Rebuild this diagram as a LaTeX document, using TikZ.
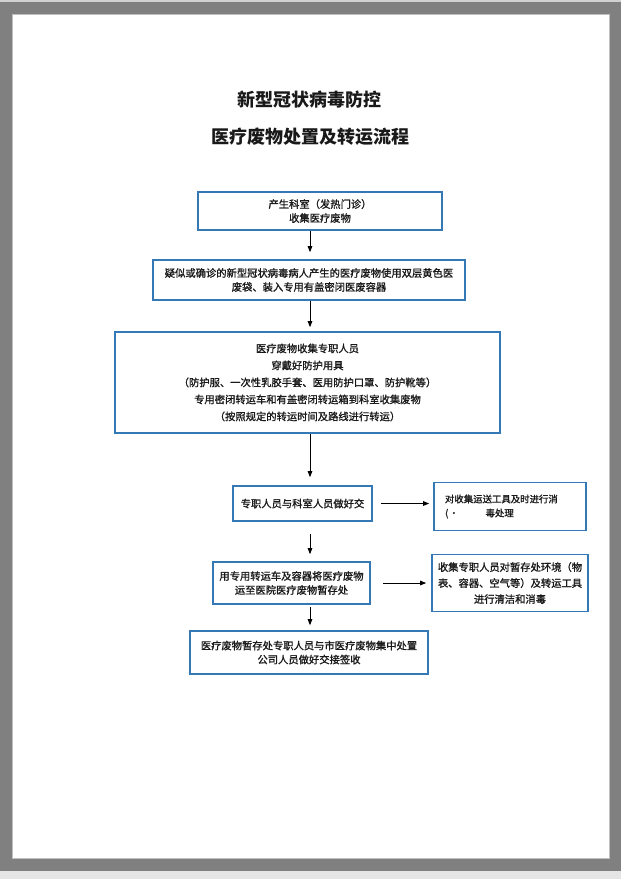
\documentclass[tikz,border=0pt]{standalone}
\usepackage{fontspec}
\usepackage{xcolor}
\usetikzlibrary{positioning,arrows.meta}
\newfontfamily\cjk[FakeBold=1.2]{Noto Sans CJK SC}
\newfontfamily\cjktitle{Noto Sans CJK SC}
\definecolor{boxblue}{RGB}{52,120,182}
\definecolor{pagegray}{RGB}{128,128,128}

\begin{document}
\begin{tikzpicture}[x=1bp, y=1bp,
  flow/.style={draw=boxblue, line width=1.6bp, align=center, inner sep=0pt,
               font=\cjk\fontsize{10.3bp}{14bp}\selectfont, text=black!90},
  ttl/.style={font=\cjktitle\bfseries\fontsize{18bp}{22bp}\selectfont, text=black!90},
  arr/.style={-{Triangle[length=6bp,width=4.5bp]}, line width=0.9bp}
]
  % page
  \useasboundingbox (0,0) rectangle (621,-879);
  \fill[pagegray] (0,-2) rectangle (621,-871);
  \fill[black!18] (0,0) rectangle (621,-2);
  \fill[black!10] (0,-871) rectangle (621,-879);
  \fill[white, draw=black!25] (12,-14) rectangle (609,-858);

  % title
  \node[ttl] (t1) at (309,-100) {新型冠状病毒防控};
  \node[ttl] (t2) at (310,-137) {医疗废物处置及转运流程};

  % main chain
  \node[flow, minimum width=244bp, minimum height=38bp] (produce) at (320,-211)
    {产生科室（发热门诊）\\收集医疗废物};
  \node[flow, minimum width=312bp, minimum height=40bp,
        below=28.4bp of produce, xshift=-11bp] (pack)
    {疑似或确诊的新型冠状病毒病人产生的医疗废物使用双层黄色医\\废袋、装入专用有盖密闭医废容器};
  \node[flow, minimum width=385bp, minimum height=101bp,
        font=\cjk\fontsize{10.3bp}{17bp}\selectfont,
        below=30.4bp of pack, xshift=-1.5bp] (collect)
    {医疗废物收集专职人员\\穿戴好防护用具\\（防护服、一次性乳胶手套、医用防护口罩、防护靴等）\\专用密闭转运车和有盖密闭转运箱到科室收集废物\\（按照规定的转运时间及路线进行转运）};
  \node[flow, minimum width=139bp, minimum height=35bp,
        below=51.4bp of collect, xshift=-5bp] (handover)
    {专职人员与科室人员做好交};
  \node[flow, minimum width=157bp, minimum height=42bp,
        below=39.4bp of handover, xshift=-11bp] (transfer)
    {用专用转运车及容器将医疗废物\\运至医院医疗废物暂存处};
  \node[flow, minimum width=238bp, minimum height=43bp,
        below=25.4bp of transfer, xshift=17.5bp] (sign)
    {医疗废物暂存处专职人员与市医疗废物集中处置\\公司人员做好交接签收};

  % side boxes
  \node[flow, minimum width=152bp, minimum height=48bp, text width=130bp,
        align=left, font=\cjk\fontsize{9.4bp}{14bp}\selectfont,
        right=60.4bp of handover, yshift=-3bp] (disinfect)
    {对收集运送工具及时进行消\\(\hspace{1bp}·\hspace{27bp}毒处理};
  \node[flow, minimum width=156bp, minimum height=57bp,
        font=\cjk\fontsize{10.3bp}{16bp}\selectfont,
        right=60.4bp of transfer] (clean)
    {收集专职人员对暂存处环境（物\\表、容器、空气等）及转运工具\\进行清洁和消毒};

  % arrows
  \coordinate (ax) at (310,0);
  \draw[arr, shorten >=7bp] (produce.south -| ax) -- (pack.north -| ax);
  \draw[arr, shorten >=4bp] (pack.south -| ax) -- (collect.north -| ax);
  \draw[arr, shorten >=8bp] (collect.south -| ax) -- (handover.north -| ax);
  \draw[arr, shorten <=12bp, shorten >=7bp] (handover.south -| ax) -- (transfer.north -| ax);
  \draw[arr, shorten <=2bp, shorten >=5bp] (transfer.south -| ax) -- (sign.north -| ax);
  \draw[arr, shorten <=8bp, shorten >=4bp] (handover.east) -- (handover.east -| disinfect.west);
  \draw[arr, shorten <=12bp, shorten >=5bp] (transfer) -- (clean);
\end{tikzpicture}
\end{document}
